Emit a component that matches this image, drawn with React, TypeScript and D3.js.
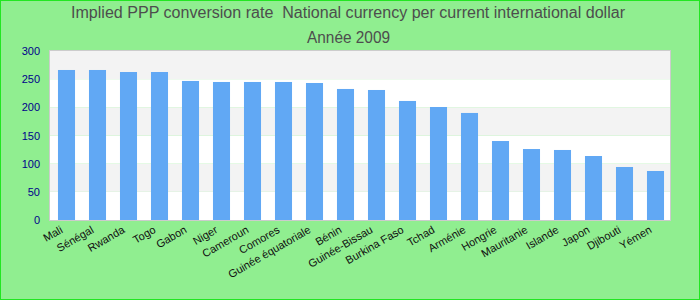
import React from "react";
import * as d3 from "d3";

const categories = ["Mali", "Sénégal", "Rwanda", "Togo", "Gabon", "Niger", "Cameroun", "Comores", "Guinée équatoriale", "Bénin", "Guinée-Bissau", "Burkina Faso", "Tchad", "Arménie", "Hongrie", "Mauritanie", "Islande", "Japon", "Djibouti", "Yémen"];
const values = [266.3, 266.3, 262.7, 262.7, 246.8, 245.0, 245.0, 245.0, 243.2, 232.6, 230.8, 211.3, 200.6, 190.0, 140.2, 126.0, 124.3, 113.6, 94.1, 87.0];
const yTicks = [0, 50, 100, 150, 200, 250, 300];
const titleLine1 = "Implied PPP conversion rate  National currency per current international dollar";
const titleLine2 = "Année 2009";

export default function App() {
  const W = 700, H = 300;
  const left = 50, right = 670, top = 51, bottom = 220;
  const x = d3.scaleBand<string>().domain(categories).range([left + 1, right + 1]).paddingInner(0.45).paddingOuter(0.225);
  const y = d3.scaleLinear().domain([0, 300]).range([bottom, top]);
  const bands = d3.pairs(yTicks);
  const font = "'Liberation Sans', Arial, sans-serif";
  return (
    <svg width={W} height={H} style={{ position: "absolute", left: 0, top: 0 }} fontFamily={font}>
      <rect x={0.5} y={0.5} width={W - 1} height={H - 1} fill="#90ee90" stroke="#22e622" strokeWidth={1} />
      <text x={348} y={18} textAnchor="middle" fontSize={16} fill="#4d4d4d" textLength={554} lengthAdjust="spacingAndGlyphs" style={{ whiteSpace: "pre" }}>{titleLine1}</text>
      <text x={348.5} y={43} textAnchor="middle" fontSize={16} fill="#4d4d4d" textLength={83} lengthAdjust="spacingAndGlyphs">{titleLine2}</text>
      {bands.map(([a, b], i) => (
        <rect key={i} x={left} y={y(b)} width={right - left} height={y(a) - y(b)} fill={i % 2 === 0 ? "#ffffff" : "#f3f3f3"} />
      ))}
      <rect x={left - 0.5} y={top - 0.5} width={right - left + 1} height={bottom - top + 1} fill="none" stroke="#cccccc" strokeWidth={1} />
      {categories.map((c, i) => (
        <rect key={c} x={x(c)} y={y(values[i])} width={x.bandwidth()} height={bottom - y(values[i])} fill="#61a8f4" />
      ))}
      {yTicks.map((t) => (
        <text key={t} x={40} y={y(t) + 4} textAnchor="end" fontSize={11} fill="#00008b">{t}</text>
      ))}
      {categories.map((c) => {
        const cx = (x(c) as number) + x.bandwidth() / 2 - 3;
        const cy = 232;
        return (
          <text key={c} x={cx} y={cy} textAnchor="end" fontSize={11} fill="#111" transform={`rotate(-30 ${cx} ${cy})`}>{c}</text>
        );
      })}
    </svg>
  );
}
